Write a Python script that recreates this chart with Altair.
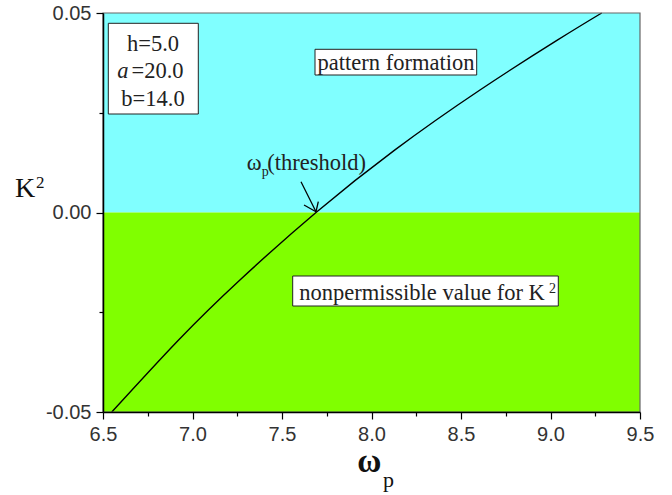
import altair as alt
import pandas as pd

# ---- data ----
omega_p = [6.549, 6.921, 7.265, 7.690, 8.131, 8.606, 9.038, 9.286]
k2 = [-0.0500, -0.0320, -0.0169, 0.0000, 0.0157, 0.0307, 0.0432, 0.0500]

region_x0 = [6.5, 6.5]
region_x1 = [9.5, 9.5]
region_y0 = [0.0, -0.05]
region_y1 = [0.05, 0.0]
region_name = ["pattern", "nonpermissible"]
region_color = ["#80FFFF", "#80FF00"]

x_ticks = [6.5, 6.75, 7.0, 7.25, 7.5, 7.75, 8.0, 8.25, 8.5, 8.75, 9.0, 9.25, 9.5]
y_ticks = [-0.05, -0.025, 0.0, 0.025, 0.05]

W, H = 537, 399
SERIF = "Liberation Serif"
SANS = "Liberation Sans"

curve_df = pd.DataFrame({"w": omega_p, "k": k2})
reg_df = pd.DataFrame({"x0": region_x0, "x1": region_x1, "y0": region_y0,
                       "y1": region_y1, "name": region_name})
one = pd.DataFrame({"d": [0]})

xscale = alt.Scale(domain=[6.5, 9.5], nice=False, zero=False)
yscale = alt.Scale(domain=[-0.05, 0.05], nice=False, zero=False)

xaxis = alt.Axis(
    values=x_ticks, title=None, grid=False, labelFlush=False,
    labelExpr="datum.value % 0.5 == 0 ? format(datum.value, '.1f') : ''",
    tickSize={"condition": {"test": "datum.value % 0.5 == 0", "value": 7}, "value": 4},
    labelFont=SANS, labelFontSize=20, labelColor="#333333", labelPadding=5,
    domainColor="black", domainWidth=1.5, tickColor="black", tickWidth=1.2,
    zindex=1,
)
yaxis = alt.Axis(
    values=y_ticks, title=None, grid=False, labelFlush=False,
    labelExpr="abs(round(datum.value*1000)) % 50 == 0 ? replace(format(datum.value, '.2f'), '\u2212', '-') : ''",
    tickSize={"condition": {"test": "abs(round(datum.value*1000)) % 50 == 0", "value": 7}, "value": 4},
    labelFont=SANS, labelFontSize=20, labelColor="#333333", labelPadding=5,
    domainColor="black", domainWidth=1.5, tickColor="black", tickWidth=1.2,
    zindex=1,
)

bg = alt.Chart(reg_df).mark_rect().encode(
    x=alt.X("x0:Q", scale=xscale, axis=xaxis),
    x2="x1:Q",
    y=alt.Y("y0:Q", scale=yscale, axis=yaxis),
    y2="y1:Q",
    color=alt.Color("name:N", scale=alt.Scale(domain=region_name, range=region_color), legend=None),
)

curve = alt.Chart(curve_df).mark_line(color="black", strokeWidth=1.4, interpolate="natural").encode(
    x=alt.X("w:Q", scale=xscale),
    y=alt.Y("k:Q", scale=yscale),
)


def box(x0, y0, x1, y1):
    return alt.Chart(one).mark_rect(fill="white", stroke="#222222", strokeWidth=1).encode(
        x=alt.value(x0), x2=alt.value(x1), y=alt.value(y0), y2=alt.value(y1))


def txt(s, x, y, size=22.5, align="left", baseline="alphabetic", font=SERIF, style="normal", weight="normal", color="#222222"):
    return alt.Chart(one).mark_text(
        text=s, align=align, baseline=baseline, font=font, fontSize=size,
        fontStyle=style, fontWeight=weight, color=color,
    ).encode(x=alt.value(x), y=alt.value(y))


def seg(x0, y0, x1, y1, w=1.3):
    return alt.Chart(one).mark_rule(color="black", strokeWidth=w).encode(
        x=alt.value(x0), x2=alt.value(x1), y=alt.value(y0), y2=alt.value(y1))


layers = [
    bg, curve,
    # parameter box
    box(5.3, 10.3, 95.3, 101),
    txt("h=5.0", 50, 37.5, align="center"),
    txt("a", 25.5, 65, align="right", style="italic"),
    txt("=20.0", 28.5, 65, align="left"),
    txt("b=14.0", 50, 92.5, align="center"),
    # pattern formation box
    box(212, 36.3, 373.7, 62),
    txt("pattern formation", 293, 56.5, align="center"),
    # nonpermissible box
    box(189.7, 263, 455.3, 293),
    txt("nonpermissible value for K", 196.3, 287, align="left"),
    txt("2", 446, 280, size=14, align="left"),
    # threshold label
    txt("\u03c9", 143.7, 157, align="left"),
    txt("p", 158.7, 163, size=14, align="left"),
    txt("(threshold)", 164.3, 157, align="left"),
    seg(198, 168.7, 213, 198.7),
    seg(201, 192, 213, 198.7),
    seg(215.3, 188.7, 213, 198.7),
    # axis titles
    txt("K", -78, 184, size=28, align="center", color="#111111"),
    txt("2", -67, 175.3, size=17, align="left", color="#111111"),
    txt("\u03c9", 266.3, 458.7, size=33, align="center", weight="bold", color="#111111"),
    txt("p", 280, 473.7, size=22, align="left", color="#111111"),
    # frame (top/right)
    alt.Chart(one).mark_rect(fillOpacity=0, stroke="#666666", strokeWidth=1.2).encode(
        x=alt.value(0), x2=alt.value(W), y=alt.value(0), y2=alt.value(H)),
]

chart = alt.layer(*layers).properties(
    width=W, height=H,
    autosize="none",
    padding={"left": 103, "top": 13, "right": 32, "bottom": 83},
    background="white",
).configure_view(stroke=None)

chart.save("out.html", embed_options={"renderer": "svg", "actions": False})
